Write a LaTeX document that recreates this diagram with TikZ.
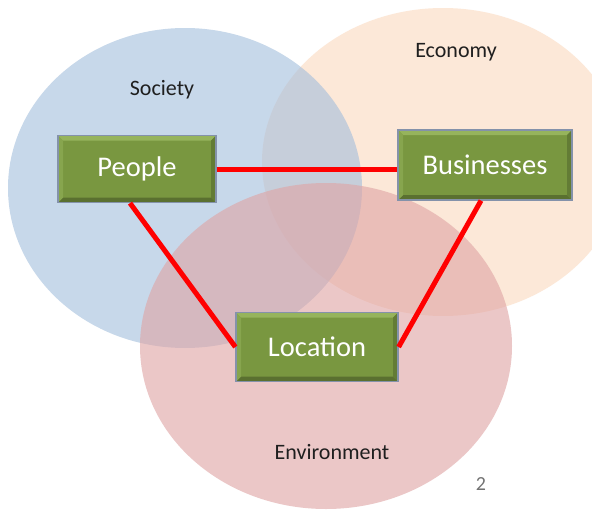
\documentclass[tikz,border=0pt]{standalone}
\usepackage{fontspec}
\setmainfont{Carlito}
\definecolor{societyblue}{RGB}{163,190,220}
\definecolor{economypeach}{RGB}{251,217,190}
\definecolor{envpink}{RGB}{223,163,163}
\definecolor{boxgreen}{RGB}{121,151,64}
\definecolor{boxlight}{RGB}{150,180,92}
\definecolor{boxdark}{RGB}{90,112,48}
\definecolor{boxrim}{RGB}{132,146,170}
\definecolor{linkred}{RGB}{255,0,0}
\begin{document}
\begin{tikzpicture}[x = 1pt, y = -1pt,
    actor/.style = {draw = boxrim, line width = 1.2pt, fill = boxgreen,
        text = white, font = \fontsize{28.5}{30}\selectfont, inner sep = 0pt,
        path picture = {
            \fill[boxlight] (path picture bounding box.north west) -- (path picture bounding box.north east)
                -- ([shift = {(-5pt,-5pt)}]path picture bounding box.north east) -- ([shift = {(5pt,-5pt)}]path picture bounding box.north west) -- cycle;
            \fill[boxdark] (path picture bounding box.south west) -- (path picture bounding box.south east)
                -- ([shift = {(-5pt,5pt)}]path picture bounding box.south east) -- ([shift = {(5pt,5pt)}]path picture bounding box.south west) -- cycle;
            \fill[boxdark!70!boxgreen] (path picture bounding box.north east) -- (path picture bounding box.south east)
                -- ([shift = {(-5pt,5pt)}]path picture bounding box.south east) -- ([shift = {(-5pt,-5pt)}]path picture bounding box.north east) -- cycle;
            \fill[boxlight!50!boxgreen] (path picture bounding box.north west) -- (path picture bounding box.south west)
                -- ([shift = {(5pt,5pt)}]path picture bounding box.south west) -- ([shift = {(5pt,-5pt)}]path picture bounding box.north west) -- cycle;
        }},
    sphere/.style = {font = \fontsize{22}{24}\selectfont, text = black!88},
    link/.style = {draw = linkred, line width = 5pt}]
    \useasboundingbox (0, 0) rectangle (592, 509);
    \fill[white] (0, 0) rectangle (592, 509);
    % the three spheres
    \fill[economypeach, opacity = 0.6] (443, 162) ellipse [x radius = 181, y radius = 154];
    \fill[societyblue, opacity = 0.6] (185, 188) ellipse [x radius = 177, y radius = 160];
    \fill[envpink, opacity = 0.6] (326, 346) ellipse [x radius = 186, y radius = 163];
    \node[sphere] (society) at (162, 90) {Society};
    \node[sphere] (economy) at (456, 52) {Economy};
    \node[sphere] (environment) at (332, 452) {Environment};
    % the actors
    \node[actor, minimum width = 158, minimum height = 67] (people) at (137, 169) {People};
    \node[actor, minimum width = 174, minimum height = 70] (businesses) at (485, 165) {Businesses};
    \node[actor, minimum width = 162, minimum height = 69] (location) at (317, 347) {Location};
    % the links
    \draw[link] (people.east) -- (people.east -| businesses.west);
    \draw[link] ([xshift = -7pt]people.south) -- (location.west);
    \draw[link] ([xshift = -4pt]businesses.south) -- (location.east);
    \node[font = \fontsize{20}{22}\selectfont, text = black!55] (slideno) at (481, 484) {2};
\end{tikzpicture}
\end{document}
